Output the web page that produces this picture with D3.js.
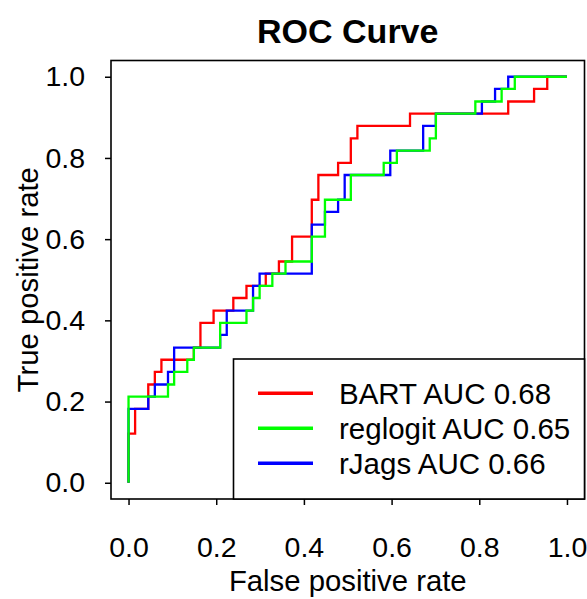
<!DOCTYPE html>
<html lang="en">

<head>
    <title>ROC Curve</title>
    <meta charset="UTF-8">
    <script src="https://d3js.org/d3.v7.min.js"></script>

    <style>
        body {
            margin: 0;
            background: #fff;
        }

        svg text {
            font-family: "Liberation Sans", Arial, sans-serif;
            fill: #000;
        }
    </style>

</head>

<body>
    <svg width="587" height="599"></svg>

    <script>

        // ROC points (fpr, tpr), one point per step corner
        const bartFpr = [0, 0, 0.015, 0.045, 0.060, 0.075, 0.149, 0.164, 0.194, 0.239, 0.269, 0.313,
            0.343, 0.373, 0.418, 0.433, 0.478, 0.507, 0.522, 0.642, 0.866, 0.925, 0.955, 1.0];
        const bartTpr = [0, 0.121, 0.182, 0.242, 0.273, 0.303, 0.333, 0.394, 0.424, 0.455, 0.485, 0.515,
            0.545, 0.606, 0.697, 0.758, 0.788, 0.848, 0.879, 0.909, 0.939, 0.970, 1.0, 1.0];

        const reglogitFpr = [0, 0, 0.090, 0.104, 0.134, 0.149, 0.209, 0.269, 0.284, 0.299, 0.328, 0.358,
            0.418, 0.448, 0.507, 0.582, 0.612, 0.687, 0.701, 0.791, 0.851, 0.881, 1.0];
        const reglogitTpr = [0, 0.212, 0.242, 0.273, 0.303, 0.333, 0.394, 0.424, 0.455, 0.485, 0.515, 0.545,
            0.606, 0.697, 0.758, 0.788, 0.818, 0.848, 0.909, 0.939, 0.970, 1.0, 1.0];

        const rjagsFpr = [0, 0, 0.045, 0.060, 0.090, 0.104, 0.209, 0.224, 0.284, 0.299, 0.418, 0.448,
            0.478, 0.493, 0.597, 0.672, 0.701, 0.806, 0.836, 0.866, 1.0];
        const rjagsTpr = [0, 0.182, 0.212, 0.242, 0.273, 0.333, 0.364, 0.424, 0.485, 0.515, 0.636, 0.667,
            0.697, 0.758, 0.818, 0.879, 0.909, 0.939, 0.970, 1.0, 1.0];

        const seriesNames = ["BART", "reglogit", "rJags"];
        const seriesAuc = [0.68, 0.65, 0.66];
        const seriesColors = ["#ff0000", "#00ff00", "#0000ff"];
        const tickValues = [0, 0.2, 0.4, 0.6, 0.8, 1.0];

        let svg = d3.select("svg");

        // plot region (R style: 4% padding around the data range)
        const plotLeft = 111, plotRight = 584.5, plotTop = 60.5, plotBottom = 499;

        let x = d3.scaleLinear().domain([-0.04, 1.04]).range([plotLeft, plotRight]);
        let y = d3.scaleLinear().domain([-0.04, 1.04]).range([plotBottom, plotTop]);

        // title
        svg.append("text")
            .attr("x", (plotLeft + plotRight) / 2)
            .attr("y", 43)
            .attr("text-anchor", "middle")
            .style("font-size", "34px")
            .style("font-weight", "bold")
            .text("ROC Curve");

        // axes
        let yAxis = svg.append("g")
            .attr("transform", `translate(${plotLeft},0)`)
            .call(d3.axisLeft(y).tickValues(tickValues).tickFormat(d3.format(".1f"))
                .tickSize(6).tickSizeOuter(0).tickPadding(20));

        let xAxis = svg.append("g")
            .attr("transform", `translate(0,${plotBottom})`)
            .call(d3.axisBottom(x).tickValues(tickValues).tickFormat(d3.format(".1f"))
                .tickSize(6).tickSizeOuter(0).tickPadding(32));

        [xAxis, yAxis].forEach(function (a) {
            a.select(".domain").remove();
            a.selectAll("line").attr("stroke", "#000").attr("stroke-width", 1.5);
            a.selectAll("text")
                .style("font-size", "28.5px")
                .style("font-family", "'Liberation Sans', Arial, sans-serif")
                .attr("fill", "#000");
        });

        // axis titles
        svg.append("text")
            .attr("x", (plotLeft + plotRight) / 2)
            .attr("y", 591)
            .attr("text-anchor", "middle")
            .style("font-size", "29.3px")
            .text("False positive rate");

        svg.append("text")
            .attr("transform", `translate(38,${(plotTop + plotBottom) / 2}) rotate(-90)`)
            .attr("text-anchor", "middle")
            .style("font-size", "29.3px")
            .text("True positive rate");

        // curves: red first, then blue, green drawn on top
        const line = d3.line()
            .x(function (d) { return x(d[0]) })
            .y(function (d) { return y(d[1]) })
            .curve(d3.curveStepAfter);

        const curves = [
            { fpr: bartFpr, tpr: bartTpr, color: seriesColors[0] },
            { fpr: rjagsFpr, tpr: rjagsTpr, color: seriesColors[2] },
            { fpr: reglogitFpr, tpr: reglogitTpr, color: seriesColors[1] }
        ];

        svg.append("g").attr("class", "curves")
            .selectAll("path")
            .data(curves)
            .enter()
            .append("path")
            .attr("d", function (d) { return line(d3.zip(d.fpr, d.tpr)) })
            .attr("fill", "none")
            .attr("stroke", function (d) { return d.color })
            .attr("stroke-width", 2.3);

        // plot box
        svg.append("rect")
            .attr("x", plotLeft)
            .attr("y", plotTop)
            .attr("width", plotRight - plotLeft)
            .attr("height", plotBottom - plotTop)
            .attr("fill", "none")
            .attr("stroke", "#000")
            .attr("stroke-width", 1.6);

        // legend, bottom right
        const legLeft = 233.5, legTop = 359;
        let legend = svg.append("g").attr("class", "legend");

        legend.append("rect")
            .attr("x", legLeft)
            .attr("y", legTop)
            .attr("width", plotRight - legLeft)
            .attr("height", plotBottom - legTop)
            .attr("fill", "#fff")
            .attr("stroke", "#000")
            .attr("stroke-width", 1.6);

        let items = legend.selectAll("g.item")
            .data(seriesNames)
            .enter()
            .append("g")
            .attr("class", "item")
            .attr("transform", function (d, i) { return `translate(0,${393.3 + i * 35})` });

        items.append("line")
            .attr("x1", 258)
            .attr("x2", 313)
            .attr("stroke", function (d, i) { return seriesColors[i] })
            .attr("stroke-width", 3.4);

        items.append("text")
            .attr("x", 339)
            .attr("y", 10.5)
            .style("font-size", "29.5px")
            .text(function (d, i) { return d + " AUC " + seriesAuc[i].toFixed(2) });

    </script>

</body>

</html>
